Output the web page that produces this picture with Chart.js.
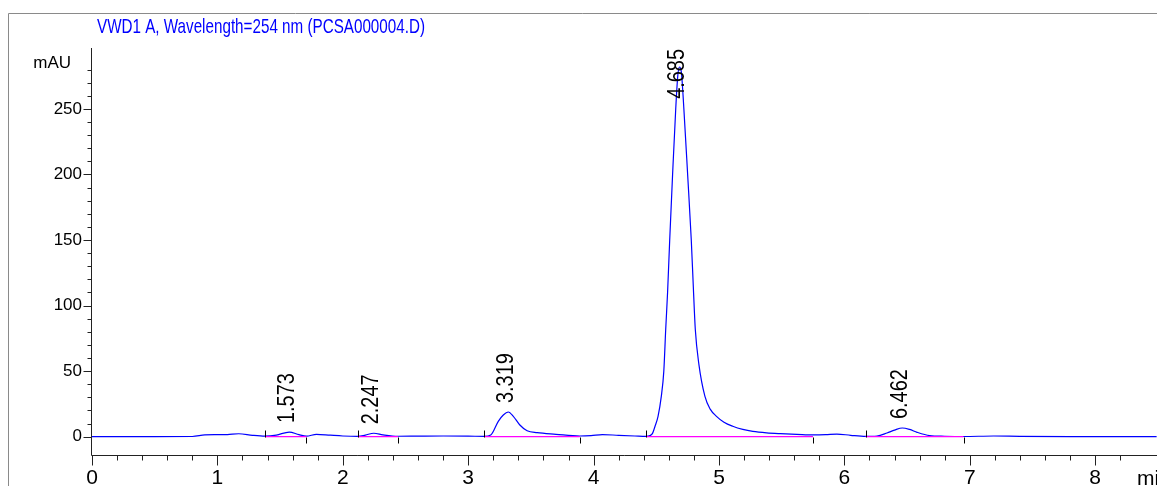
<!DOCTYPE html>
<html lang="en">
<head>
<meta charset="UTF-8">
<title>VWD1 A, Wavelength=254 nm (PCSA000004.D)</title>
<script src="https://cdn.jsdelivr.net/npm/chart.js"></script>
<style>
  html, body { margin: 0; padding: 0; background: #fff; }
  #wrap { position: relative; width: 1157px; height: 486px; }
</style>
</head>
<body>
<div id="wrap"><canvas id="chrom" width="1157" height="486"></canvas></div>
<script>
// Signal trace: retention time (min) and absorbance (mAU)
const times = [0, 0.5, 0.8, 0.9, 1.0, 1.08, 1.17, 1.28, 1.38, 1.47, 1.573, 1.65, 1.71, 1.79, 1.9, 2.0,
  2.12, 2.18, 2.247, 2.32, 2.44, 2.6, 2.8, 3.0, 3.13, 3.18, 3.24, 3.28, 3.32, 3.36, 3.41, 3.47, 3.55,
  3.7, 3.89, 3.98, 4.07, 4.2, 4.33, 4.42, 4.45, 4.47, 4.49, 4.514, 4.54, 4.56, 4.575, 4.59, 4.607,
  4.63, 4.655, 4.672, 4.685, 4.70, 4.72, 4.75, 4.779, 4.795, 4.811, 4.84, 4.888, 4.93, 4.98, 5.04,
  5.11, 5.19, 5.27, 5.38, 5.49, 5.62, 5.75, 5.85, 5.94, 6.05, 6.17, 6.26, 6.34, 6.40, 6.462, 6.52,
  6.58, 6.68, 6.8, 6.95, 7.19, 7.4, 7.8, 8.49];
const signal = [0, 0, 0.1, 1.3, 1.5, 1.6, 2.2, 1.0, 0.4, 1.2, 3.5, 1.5, 0.4, 1.8, 1.1, 0.5,
  0.2, 1.2, 2.6, 1.4, 0.3, 0.4, 0.5, 0.4, 0.2, 1.2, 11.7, 16.5, 18.8, 15.5, 9.1, 4.5, 3.0,
  1.8, 0.5, 0.8, 1.6, 1.0, 0.5, 0.2, 0.8, 2.5, 7.9, 15.5, 30.7, 50, 81.5, 110, 150,
  200, 250, 276, 282, 278, 250, 200, 150, 115, 82, 55, 30.7, 21, 15.5, 11,
  7.9, 5.5, 4.0, 2.9, 2.3, 1.8, 1.3, 1.5, 2.0, 1.0, 0.2, 0.5, 2.8, 5.0, 6.6, 5.5,
  3.3, 0.8, 0.3, 0.1, 0.5, 0.2, 0, 0];

// Integrated peaks
const peakTimes = [1.573, 2.247, 3.319, 4.685, 6.462];
const peakHeights = [3.5, 2.6, 18.8, 282, 6.6];
const baseStart = [1.38, 2.12, 3.13, 4.42, 6.17];
const baseEnd = [1.71, 2.44, 3.89, 5.75, 6.95];

// Axis labels
const xTickLabels = ['0', '1', '2', '3', '4', '5', '6', '7', '8'];
const yTickLabels = ['0', '50', '100', '150', '200', '250'];
const titleText = 'VWD1 A, Wavelength=254 nm (PCSA000004.D)';

const FONT = '"Liberation Sans", Arial, sans-serif';

function isStep(v, s) {
  return Math.abs(v / s - Math.round(v / s)) < 1e-6;
}

const trace = times.map((t, i) => ({ x: t, y: signal[i] }));
const baselines = [];
baseStart.forEach((s, i) => {
  baselines.push({ x: s, y: 0 }, { x: baseEnd[i], y: 0 }, { x: baseEnd[i], y: null });
});

// axes, tick marks, peak labels and header drawn over the chart
const decor = {
  id: 'decor',
  afterDraw(chart) {
    const { ctx, chartArea: a, scales: { x, y } } = chart;
    ctx.save();

    // outer frame
    ctx.strokeStyle = '#8a8a8a';
    ctx.lineWidth = 1;
    ctx.beginPath();
    ctx.moveTo(8.5, chart.height);
    ctx.lineTo(8.5, 13.5);
    ctx.lineTo(chart.width, 13.5);
    ctx.stroke();

    // axis lines + ticks
    ctx.strokeStyle = '#222';
    ctx.beginPath();
    ctx.moveTo(a.left - 0.5, a.top);
    ctx.lineTo(a.left - 0.5, a.bottom + 0.5);
    ctx.lineTo(a.right, a.bottom + 0.5);
    y.ticks.forEach(t => {
      if (!isStep(t.value, 10)) return;
      const py = Math.round(y.getPixelForValue(t.value)) + 0.5;
      const len = isStep(t.value, 50) ? 8 : 4;
      ctx.moveTo(a.left - 0.5 - len, py);
      ctx.lineTo(a.left - 0.5, py);
    });
    x.ticks.forEach(t => {
      if (!isStep(t.value, 0.2)) return;
      const px = Math.round(x.getPixelForValue(t.value)) + 0.5;
      const len = isStep(t.value, 1) ? 10 : 5;
      ctx.moveTo(px, a.bottom + 0.5);
      ctx.lineTo(px, a.bottom + 0.5 + len);
    });
    ctx.stroke();

    // integration start / end marks
    ctx.strokeStyle = '#000';
    ctx.beginPath();
    const by = Math.round(y.getPixelForValue(0)) + 0.5;
    baseStart.forEach(s => {
      const px = Math.round(x.getPixelForValue(s)) + 0.5;
      ctx.moveTo(px, by);
      ctx.lineTo(px, by - 7);
    });
    baseEnd.forEach(e => {
      const px = Math.round(x.getPixelForValue(e)) + 0.5;
      ctx.moveTo(px, by);
      ctx.lineTo(px, by + 6);
    });
    ctx.stroke();

    // retention time labels
    ctx.fillStyle = '#000';
    ctx.font = '24px ' + FONT;
    ctx.textAlign = 'left';
    ctx.textBaseline = 'alphabetic';
    peakTimes.forEach((t, i) => {
      const txt = t.toFixed(3);
      const len = ctx.measureText(txt).width * 0.83;
      const px = x.getPixelForValue(t) + 4.5;
      let start = y.getPixelForValue(peakHeights[i]) - 9;
      if (start - len < a.top + 1) start = a.top + 1 + len;
      ctx.save();
      ctx.translate(px, start);
      ctx.rotate(-Math.PI / 2);
      ctx.scale(0.83, 1);
      ctx.fillText(txt, 0, 0);
      ctx.restore();
    });

    // unit labels
    ctx.font = '17px ' + FONT;
    ctx.textAlign = 'right';
    ctx.fillText('mAU', 71, 68);
    ctx.font = '21px ' + FONT;
    ctx.textAlign = 'left';
    ctx.fillText('min', a.right - 20, 485);

    // signal header, squeezed like the instrument font
    ctx.fillStyle = '#0000ff';
    const w = ctx.measureText(titleText).width;
    ctx.translate(97, 32.5);
    ctx.scale(328 / w, 1);
    ctx.fillText(titleText, 0, 0);

    ctx.restore();
  }
};

new Chart(document.getElementById('chrom'), {
  type: 'line',
  data: {
    datasets: [
      {
        label: 'Baseline',
        data: baselines,
        borderColor: '#ff00ff',
        borderWidth: 1.2,
        pointRadius: 0,
        spanGaps: false
      },
      {
        label: 'VWD1 A',
        data: trace,
        borderColor: '#0000ff',
        borderWidth: 1.2,
        pointRadius: 0,
        cubicInterpolationMode: 'monotone'
      }
    ]
  },
  options: {
    responsive: false,
    animation: false,
    events: [],
    layout: { padding: { top: 48, right: 0, left: 0, bottom: 0 } },
    plugins: {
      legend: { display: false },
      tooltip: { enabled: false }
    },
    scales: {
      x: {
        type: 'linear',
        min: 0,
        max: 8.493,
        afterFit(s) {
          s.height = 31;
          s.paddingLeft = 0;
          s.paddingRight = 0;
        },
        grid: { display: false, drawTicks: false },
        border: { display: false },
        ticks: {
          stepSize: 0.2,
          maxTicksLimit: 100,
          autoSkip: false,
          maxRotation: 0,
          padding: 11,
          color: '#000',
          font: { family: FONT, size: 21 },
          callback: v => isStep(v, 1) && xTickLabels.includes(String(Math.round(v))) ? String(Math.round(v)) : ''
        }
      },
      y: {
        type: 'linear',
        min: -14,
        max: 296.5,
        afterFit(s) {
          s.width = 92;
          s.paddingTop = 0;
          s.paddingBottom = 0;
        },
        grid: { display: false, drawTicks: false },
        border: { display: false },
        ticks: {
          stepSize: 10,
          maxTicksLimit: 100,
          autoSkip: false,
          padding: 10,
          color: '#000',
          font: { family: FONT, size: 17 },
          callback: v => isStep(v, 50) && yTickLabels.includes(String(Math.round(v))) ? String(Math.round(v)) : ''
        }
      }
    }
  },
  plugins: [decor]
});
</script>
</body>
</html>
